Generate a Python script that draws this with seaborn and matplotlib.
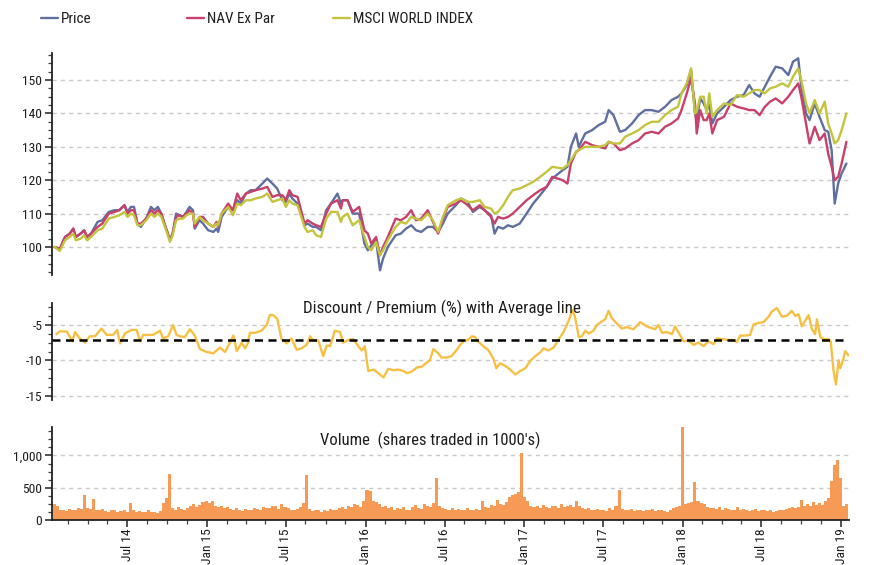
import matplotlib
matplotlib.use("Agg")
import numpy as np
import pandas as pd
import matplotlib.pyplot as plt
import matplotlib.dates as mdates
from matplotlib.ticker import MultipleLocator, FixedLocator, FuncFormatter
from matplotlib import font_manager
from matplotlib.font_manager import FontProperties
from matplotlib.textpath import TextPath
import seaborn as sns

# ---------------- data ----------------
price_dates = [
    "2014-01-14", "2014-01-26", "2014-02-07", "2014-02-18", "2014-02-26", "2014-03-04", "2014-03-15", "2014-03-23",
    "2014-03-30", "2014-04-08", "2014-04-23", "2014-05-04", "2014-05-19", "2014-06-01", "2014-06-12", "2014-06-24",
    "2014-07-01", "2014-07-09", "2014-07-16", "2014-07-24", "2014-08-01", "2014-08-13", "2014-08-24", "2014-09-01",
    "2014-09-09", "2014-09-17", "2014-09-24", "2014-10-02", "2014-10-07", "2014-10-13", "2014-10-21", "2014-10-29",
    "2014-11-06", "2014-11-14", "2014-11-21", "2014-11-29", "2014-12-03", "2014-12-14", "2014-12-22", "2015-01-03",
    "2015-01-15", "2015-01-22", "2015-01-26", "2015-02-03", "2015-02-18", "2015-03-01", "2015-03-11", "2015-03-19",
    "2015-03-31", "2015-04-11", "2015-04-22", "2015-05-08", "2015-05-19", "2015-05-31", "2015-06-11", "2015-06-23",
    "2015-07-01", "2015-07-09", "2015-07-16", "2015-07-28", "2015-08-13", "2015-08-20", "2015-09-01", "2015-09-09",
    "2015-09-20", "2015-10-02", "2015-10-13", "2015-10-28", "2015-11-05", "2015-11-09", "2015-11-20", "2015-12-02",
    "2015-12-17", "2015-12-29", "2016-01-06", "2016-01-14", "2016-01-25", "2016-02-03", "2016-02-10", "2016-02-21",
    "2016-03-10", "2016-03-22", "2016-04-03", "2016-04-15", "2016-04-26", "2016-05-08", "2016-05-23", "2016-06-04",
    "2016-06-16", "2016-06-27", "2016-07-08", "2016-07-27", "2016-08-08", "2016-08-23", "2016-09-04", "2016-09-20",
    "2016-10-01", "2016-10-16", "2016-10-24", "2016-11-01", "2016-11-13", "2016-11-24", "2016-12-05", "2016-12-21",
    "2017-01-06", "2017-01-21", "2017-02-06", "2017-02-21", "2017-03-06", "2017-03-30", "2017-04-10", "2017-04-18",
    "2017-04-30", "2017-05-06", "2017-05-21", "2017-06-06", "2017-06-21", "2017-07-06", "2017-07-14", "2017-07-25",
    "2017-08-09", "2017-08-21", "2017-09-06", "2017-09-21", "2017-10-06", "2017-10-21", "2017-11-06", "2017-11-21",
    "2017-12-06", "2017-12-21", "2017-12-29", "2018-01-10", "2018-01-20", "2018-01-29", "2018-02-02", "2018-02-10",
    "2018-02-18", "2018-02-25", "2018-03-03", "2018-03-10", "2018-03-21", "2018-04-06", "2018-04-21", "2018-05-06",
    "2018-05-21", "2018-06-03", "2018-06-15", "2018-06-27", "2018-07-09", "2018-07-21", "2018-08-03", "2018-08-18",
    "2018-09-01", "2018-09-12", "2018-09-24", "2018-10-01", "2018-10-12", "2018-10-20", "2018-11-01", "2018-11-12",
    "2018-11-24", "2018-12-02", "2018-12-10", "2018-12-17", "2018-12-25", "2019-01-02", "2019-01-13",
]
price = [
    100, 99.3, 103, 104, 105.5, 103, 104, 105, 103, 104, 107.5, 108, 110.5, 111, 111, 112.5,
    110.5, 112, 112, 107, 106, 108.5, 112, 111, 112, 110, 107, 104, 102, 104, 110, 109.5,
    109, 110.5, 112, 111, 105.5, 108, 107, 105, 104.5, 105.5, 104.5, 109, 112, 111, 114, 113,
    116, 117, 117, 119, 120.5, 119, 117.5, 114, 113.5, 116, 114.5, 113, 106.5, 107, 106, 106,
    105, 111, 113, 116, 113, 114, 114, 110, 110, 101, 99, 100.5, 102, 93, 96.5, 100,
    103.5, 104, 105.5, 106.5, 105, 104.5, 106, 106, 104.5, 107, 110, 112.5, 114.5, 113.5, 110.5, 112,
    111, 109.5, 104, 106, 105.5, 106.5, 106, 107, 110, 113, 115.5, 118, 120.5, 123, 124, 130,
    134, 130, 134, 135, 136.5, 137.5, 141, 139.5, 134.5, 135, 137, 139.5, 141, 141, 140.5, 142,
    144, 145, 146, 148.5, 153, 140, 138, 144.5, 143, 141, 142.5, 137, 140, 142, 144, 145,
    145.5, 148.5, 146, 145, 148, 151, 154, 153.5, 151.5, 155.5, 156.5, 148, 140, 138, 143, 139,
    135, 134.5, 129, 113, 119, 122, 125,
]
nav_ex_par = [
    100, 99.5, 103, 104, 105.5, 103, 104, 105, 103, 104, 106, 107, 110, 110.5, 111, 112.5,
    110, 111, 111, 107, 107, 108.5, 111, 110, 111, 110, 107, 104, 102, 104, 109, 109.5,
    109, 110, 111, 110, 106, 109, 109, 107, 106, 107.5, 106, 110, 113, 111, 116, 114,
    116, 116.5, 117, 117.5, 118, 115, 115.5, 115.5, 114, 117, 115.5, 115, 107, 108, 107, 106.5,
    106, 110, 113, 114, 111.5, 114, 114, 110.5, 112, 105, 104, 101, 103, 97.5, 100, 103,
    108.5, 108, 109, 111, 108, 108.5, 111, 107.5, 104, 108.5, 112, 113, 114, 112.5, 111, 112.5,
    111, 109, 107, 109, 108.5, 109, 110, 112, 114, 115.5, 117, 118, 121, 120, 119, 125,
    128.5, 129, 131.5, 130.5, 130, 129.5, 131.5, 131, 129, 129.5, 131, 132, 134, 134.5, 134, 136,
    137, 138.5, 141, 146, 150.5, 143, 134, 141, 138, 138, 140, 134, 138, 139, 143, 142,
    141.5, 141, 141, 139.5, 142, 143.5, 144.5, 143, 145, 147, 149, 145, 137, 131, 136, 132,
    134, 128, 124, 120, 121, 125, 131.5,
]
msci_world = [
    100, 98.8, 102, 103, 104, 102, 102.5, 103.5, 102, 103, 105, 105.5, 108.5, 109, 109.5, 110.5,
    109, 110, 109.5, 106.5, 106.5, 108, 110, 109, 110, 109, 106.5, 103.5, 101.5, 103.5, 108, 108.5,
    108.5, 109.5, 110, 110, 107, 109, 108, 107, 106, 107, 106.5, 110, 112, 109.5, 113, 112.5,
    114, 114, 114.5, 115, 116, 113.5, 114, 114.5, 112, 114, 113, 112.5, 106, 104.5, 105, 103.5,
    103, 108.5, 110.5, 110.5, 107.5, 109, 110, 106.5, 108, 103, 100, 99, 101.5, 97.5, 99, 102,
    106, 107.5, 107, 109, 108.5, 108, 110, 108, 104.5, 109, 112.5, 114, 114.5, 113.5, 113.5, 114,
    112, 111.5, 110, 110.5, 112.5, 115, 117, 117.5, 118.5, 119.5, 121, 122.5, 124, 123.5, 124.5, 126,
    128.5, 129, 130, 130, 130, 130.5, 131.5, 131, 131, 133, 134, 135, 136.5, 137.5, 137.5, 139.5,
    141, 142, 146, 149, 153.5, 140, 140.5, 145, 145, 140, 146, 139, 141, 143, 142.5, 145.5,
    145, 146, 147, 147, 146, 147.5, 148, 149, 148, 151, 153.5, 150, 143, 140, 144, 140,
    143.5, 137, 134, 131, 132, 135, 140,
]

discount_dates = [
    "2014-01-18", "2014-01-26", "2014-02-11", "2014-02-24", "2014-03-02", "2014-03-13", "2014-03-25", "2014-04-05",
    "2014-04-17", "2014-05-02", "2014-05-14", "2014-05-29", "2014-06-07", "2014-06-14", "2014-06-25", "2014-07-10",
    "2014-07-22", "2014-07-30", "2014-08-06", "2014-08-29", "2014-09-14", "2014-09-21", "2014-10-03", "2014-10-14",
    "2014-10-22", "2014-10-30", "2014-11-10", "2014-11-22", "2014-12-03", "2014-12-15", "2014-12-30", "2015-01-15",
    "2015-01-30", "2015-02-11", "2015-02-22", "2015-03-02", "2015-03-10", "2015-03-21", "2015-03-29", "2015-04-05",
    "2015-04-09", "2015-04-21", "2015-05-06", "2015-05-18", "2015-05-25", "2015-06-02", "2015-06-11", "2015-06-21",
    "2015-07-03", "2015-07-14", "2015-07-26", "2015-08-06", "2015-08-18", "2015-08-26", "2015-09-02", "2015-09-14",
    "2015-09-25", "2015-10-03", "2015-10-11", "2015-10-22", "2015-11-03", "2015-11-10", "2015-11-22", "2015-12-03",
    "2015-12-15", "2015-12-23", "2015-12-30", "2016-01-07", "2016-01-19", "2016-01-30", "2016-02-11", "2016-02-22",
    "2016-03-05", "2016-03-16", "2016-03-28", "2016-04-05", "2016-04-16", "2016-04-28", "2016-05-09", "2016-05-21",
    "2016-05-28", "2016-06-05", "2016-06-16", "2016-06-24", "2016-07-06", "2016-07-17", "2016-07-29", "2016-08-06",
    "2016-08-14", "2016-08-24", "2016-09-02", "2016-09-09", "2016-09-16", "2016-09-28", "2016-10-09", "2016-10-21",
    "2016-10-28", "2016-11-06", "2016-11-18", "2016-11-29", "2016-12-11", "2016-12-22", "2017-01-03", "2017-01-14",
    "2017-01-26", "2017-02-06", "2017-02-14", "2017-02-25", "2017-03-09", "2017-03-20", "2017-04-01", "2017-04-12",
    "2017-04-22", "2017-04-28", "2017-05-06", "2017-05-13", "2017-05-21", "2017-05-29", "2017-06-09", "2017-06-17",
    "2017-06-28", "2017-07-06", "2017-07-14", "2017-07-21", "2017-08-02", "2017-08-13", "2017-08-25", "2017-09-09",
    "2017-09-25", "2017-10-10", "2017-10-29", "2017-11-06", "2017-11-14", "2017-11-25", "2017-12-07", "2017-12-14",
    "2017-12-26", "2018-01-03", "2018-01-14", "2018-01-26", "2018-02-06", "2018-02-18", "2018-03-01", "2018-03-13",
    "2018-03-21", "2018-04-01", "2018-04-13", "2018-04-24", "2018-05-06", "2018-05-13", "2018-05-25", "2018-06-05",
    "2018-06-13", "2018-06-25", "2018-07-06", "2018-07-18", "2018-07-25", "2018-08-06", "2018-08-17", "2018-08-29",
    "2018-09-09", "2018-09-17", "2018-09-25", "2018-10-02", "2018-10-10", "2018-10-18", "2018-10-25", "2018-11-02",
    "2018-11-06", "2018-11-14", "2018-11-21", "2018-12-03", "2018-12-08", "2018-12-14", "2018-12-20", "2018-12-26",
    "2018-12-30", "2019-01-06", "2019-01-10", "2019-01-18",
]
discount_premium = [
    -6.3, -5.9, -5.9, -7.3, -6.0, -6.9, -7.5, -6.6, -6.6, -5.5, -6.4, -6.4, -5.7, -7.6, -6.2, -5.7,
    -5.7, -7.3, -6.4, -6.4, -5.8, -6.9, -6.6, -5.0, -6.4, -6.6, -6.7, -5.6, -6.5, -8.4, -8.8, -9.0,
    -8.2, -8.8, -7.5, -6.5, -8.7, -7.5, -8.3, -7.5, -6.1, -6.1, -5.8, -5.0, -3.6, -3.6, -4.1, -7.0,
    -7.6, -6.9, -8.5, -8.3, -7.8, -6.6, -7.2, -7.2, -9.4, -7.9, -8.0, -5.8, -6.0, -7.5, -7.1, -7.0,
    -8.0, -8.6, -8.0, -11.5, -11.3, -11.8, -12.4, -11.2, -11.4, -11.3, -11.5, -11.8, -11.6, -11.0, -10.9, -10.3,
    -10.0, -8.4, -9.0, -9.6, -9.6, -9.4, -8.5, -7.8,
    -7.3, -7.1, -6.6, -6.7, -7.3, -8.0, -8.5, -9.7,
    -11.1, -10.4, -10.8, -11.3, -12.0, -11.5, -11.1, -10.1,
    -9.4, -8.9, -8.3, -8.6, -8.2, -7.1, -6.0, -4.5,
    -2.9, -4.0, -6.7, -6.6, -5.8, -6.2, -5.8, -5.0,
    -4.5, -4.2, -3.0, -4.0, -4.8, -5.5, -5.3, -5.6, -4.6, -5.2, -5.6, -5.0, -6.1, -6.0, -6.3, -5.2,
    -6.5, -7.3, -7.2, -7.8, -7.5, -8.0, -7.3, -7.7, -6.9, -7.0, -7.1, -7.1, -7.4, -6.5, -6.5, -6.4,
    -4.9, -4.7, -4.6, -3.8, -3.1, -2.6, -3.8, -3.7, -3.0, -3.7, -3.5, -5.2, -4.4, -3.6, -5.5, -6.3,
    -4.2, -6.7, -7.0, -7.0, -7.3, -11.3, -13.4, -10.0, -11.1, -9.8, -8.7, -9.3,
]
average_discount = -7.1

volume_start = "2014-01-13"   # weekly volume, shares traded in 1000's
volume = [
    250, 220, 150, 160, 140, 170, 150, 160, 180, 170, 390, 180, 170,
    320, 160, 150, 170, 140, 130, 160, 150, 130, 140, 150, 130, 260,
    150, 130, 140, 120, 130, 150, 120, 130, 110, 140, 260, 340, 720,
    180, 150, 200, 170, 150, 180, 220, 250, 200, 230, 280, 300, 260,
    290, 220, 200, 210, 180, 200, 170, 160, 180, 150, 140, 170, 160,
    150, 180, 170, 160, 200, 180, 190, 210, 220, 170, 250, 200, 180,
    160, 150, 170, 200, 260, 700, 170, 140, 150, 160, 130, 150, 140,
    170, 160, 150, 180, 200, 170, 220, 200, 250, 230, 200, 300, 470,
    450, 300, 280, 250, 200, 220, 180, 200, 160, 190, 170, 200, 160,
    150, 200, 240, 180, 170, 250, 210, 200, 260, 650, 220, 180, 170,
    160, 190, 150, 170, 160, 150, 180, 160, 150, 170, 160, 300, 200,
    190, 240, 220, 310, 250, 230, 280, 350, 380, 400, 430, 1040, 350,
    300, 220, 200, 210, 190, 230, 200, 180, 220, 210, 190, 250, 200,
    210, 240, 200, 300, 220, 180, 170, 190, 160, 150, 170, 160, 150,
    140, 180, 150, 220, 460, 170, 160, 150, 170, 140, 160, 150, 140,
    160, 150, 170, 140, 160, 150, 140, 130, 160, 190, 200, 210, 1450,
    250, 260, 280, 590, 300, 260, 250, 200, 180, 190, 170, 200, 160,
    180, 170, 150, 160, 200, 150, 170, 160, 140, 150, 170, 140, 150,
    160, 140, 150, 130, 140, 150, 160, 170, 180, 200, 190, 200, 310,
    220, 250, 210, 280, 230, 260, 240, 290, 340, 600, 850, 930, 650,
    220, 250,
]

series_names = ["Price", "NAV Ex Par", "MSCI WORLD INDEX"]
panel_titles = ["Discount / Premium (%) with Average line", "Volume  (shares traded in 1000's)"]

# ---------------- style ----------------
sns.set_style("white")

def text_w(s, fp):
    return TextPath((0, 0), s, prop=fp, size=100).get_extents().width / 100.0

def text_h(s, fp):
    return TextPath((0, 0), s, prop=fp, size=100).get_extents().height / 100.0

# pick a regular sans face whose proportions are closest to the narrow face of the original
bad = ("serif", "mono", "bold", "italic", "oblique", "light", "semi", "black",
       "medium", "thin", "extra", "ultra", "heavy", "demi", "cjk", "math", "display")
target_ratio = 3.6
best, best_err = None, None
for f in font_manager.fontManager.ttflist:
    tag = (f.name + " " + f.fname).lower()
    weight_ok = f.weight in (400, "normal", "regular", "book", "Regular", "Normal", "Book")
    family_ok = ("narrow" in tag or "condensed" in tag or "liberation sans" in tag)
    if family_ok and weight_ok and f.style == "normal" \
            and not any(b in tag.replace("sans-serif", "") for b in bad):
        try:
            fp = FontProperties(fname=f.fname)
            r = text_w("Jan 15", fp) / max(text_h("H", fp), 1e-6)
        except Exception:
            continue
        err = abs(r - target_ratio)
        if best is None or err < best_err:
            best, best_err = f, err
if best is not None:
    plt.rcParams["font.family"] = [best.name, "DejaVu Sans"]
    plt.rcParams["font.stretch"] = best.stretch
    main_fp = FontProperties(family=best.name, stretch=best.stretch)
else:
    plt.rcParams["font.family"] = ["Liberation Sans", "DejaVu Sans"]
    main_fp = FontProperties(family="Liberation Sans")
plt.rcParams["font.weight"] = "normal"
plt.rcParams["axes.unicode_minus"] = False

PX = 100.0 / 72.0
def fit_size(s, target_px, cap):
    return min(cap, target_px / (text_w(s, main_fp) * PX))

fs_tick = fit_size("Jan 15", 35, 12)
fs_title1 = fit_size(panel_titles[0], 275, 13)
fs_title2 = fit_size(panel_titles[1], 220, 13)
fs_leg = fit_size(series_names[2], 119, 12.5)

c_price = "#5f6f9f"
c_nav = "#c8416b"
c_msci = "#c3c43d"
c_disc = "#f6c045"
c_vol = "#f79a55"
grid_c = "#c9c9c9"
txt_c = "#1e1e1e"

W, H = 880, 565
fig = plt.figure(figsize=(W / 100, H / 100), dpi=100)
L, R = 52, 849
def add_ax(top, bottom):
    return fig.add_axes([L / W, 1 - bottom / H, (R - L) / W, (bottom - top) / H])

ax1 = add_ax(53, 275)
ax2 = add_ax(302.7, 400)
ax3 = add_ax(426.7, 520)

pdf = pd.DataFrame({"date": pd.to_datetime(price_dates), "Price": price,
                    "NAV Ex Par": nav_ex_par, "MSCI WORLD INDEX": msci_world})
ddf = pd.DataFrame({"date": pd.to_datetime(discount_dates), "disc": discount_premium})
vdates = pd.date_range(volume_start, periods=len(volume), freq="7D")
vdf = pd.DataFrame({"d": mdates.date2num(vdates), "v": np.asarray(volume, dtype=float)})
lo = float(vdf["d"].iloc[0] - 3.5)
hi = float(vdf["d"].iloc[-1] + 3.5)

for name, col in zip(series_names, [c_price, c_nav, c_msci]):
    sns.lineplot(data=pdf, x="date", y=name, ax=ax1, color=col, lw=1.7, label=name, legend=False)

sns.lineplot(data=ddf, x="date", y="disc", ax=ax2, color=c_disc, lw=1.7, legend=False)
ax2.axhline(average_discount, color="black", lw=1.8, ls=(0, (3.2, 2.2)), zorder=3)

sns.histplot(data=vdf, x="d", weights="v", binwidth=7, binrange=(lo, hi), ax=ax3,
             color=c_vol, alpha=1.0, linewidth=0)
ax3.xaxis_date()

xmin = mdates.date2num(pd.Timestamp("2014-01-08"))
xmax = mdates.date2num(pd.Timestamp("2019-01-19"))

for ax in (ax1, ax2, ax3):
    ax.set_xlim(xmin, xmax)
    ax.set_xlabel("")
    ax.set_ylabel("")
    for s in ("top", "right"):
        ax.spines[s].set_visible(False)
    ax.spines["left"].set_color("#222222")
    ax.spines["left"].set_linewidth(1.3)
    ax.yaxis.grid(True, color=grid_c, ls=(0, (3, 3)), lw=1.0)
    ax.xaxis.grid(False)
    ax.set_axisbelow(True)
    ax.tick_params(axis="y", which="major", direction="out", length=5, width=1.1,
                   color="#222222", labelsize=fs_tick, labelcolor=txt_c, pad=2, left=True)
    ax.tick_params(axis="y", which="minor", direction="out", length=3, width=0.9,
                   color="#444444", left=True)

for ax in (ax1, ax2):
    ax.spines["bottom"].set_visible(False)
    ax.tick_params(axis="x", which="both", bottom=False, labelbottom=False)

ax1.set_ylim(91.6, 158.1)
ax1.yaxis.set_major_locator(FixedLocator([100, 110, 120, 130, 140, 150]))
ax1.yaxis.set_minor_locator(MultipleLocator(2.5))

ax2.set_ylim(-15.6, -1.85)
ax2.yaxis.set_major_locator(FixedLocator([-15, -10, -5]))
ax2.yaxis.set_minor_locator(MultipleLocator(1.25))

ax3.set_ylim(0, 1445)
ax3.yaxis.set_major_locator(FixedLocator([0, 500, 1000]))
ax3.yaxis.set_minor_locator(MultipleLocator(125))
ax3.yaxis.set_major_formatter(FuncFormatter(lambda v, p: f"{int(v):,}"))
ax3.spines["bottom"].set_color("#222222")
ax3.spines["bottom"].set_linewidth(1.3)

ax3.xaxis.set_major_locator(mdates.MonthLocator(bymonth=[1, 7]))
ax3.xaxis.set_major_formatter(mdates.DateFormatter("%b %y"))
minor_days = []
for y in range(2014, 2020):
    for m, d in [(2, 15), (4, 1), (5, 15), (8, 15), (10, 1), (11, 15)]:
        minor_days.append(mdates.date2num(pd.Timestamp(y, m, d)))
ax3.xaxis.set_minor_locator(FixedLocator(minor_days))
ax3.tick_params(axis="x", which="major", direction="out", length=5, width=1.1, color="#222222",
                labelsize=fs_tick, labelcolor=txt_c, labelrotation=90, pad=1.0, bottom=True)
ax3.tick_params(axis="x", which="minor", direction="out", length=3, width=0.9, color="#444444", bottom=True)

ax2.text((442 - L) / (R - L), 0.945, panel_titles[0], transform=ax2.transAxes,
         ha="center", va="center", fontsize=fs_title1, color=txt_c)
ax3.text((430 - L) / (R - L), 0.857, panel_titles[1], transform=ax3.transAxes,
         ha="center", va="center", fontsize=fs_title2, color=txt_c)

lines = ax1.get_lines()[:3]
hl = 17.0 / (fs_leg * PX)
for ln, name, xpx in zip(lines, series_names, [41, 187, 333]):
    fig.legend([ln], [name], loc="center left", bbox_to_anchor=(xpx / W, 1 - 19 / H),
               frameon=False, fontsize=fs_leg, handlelength=hl, handletextpad=0.2,
               borderpad=0, borderaxespad=0, labelcolor=txt_c)

fig.savefig("out.png", dpi=100)
